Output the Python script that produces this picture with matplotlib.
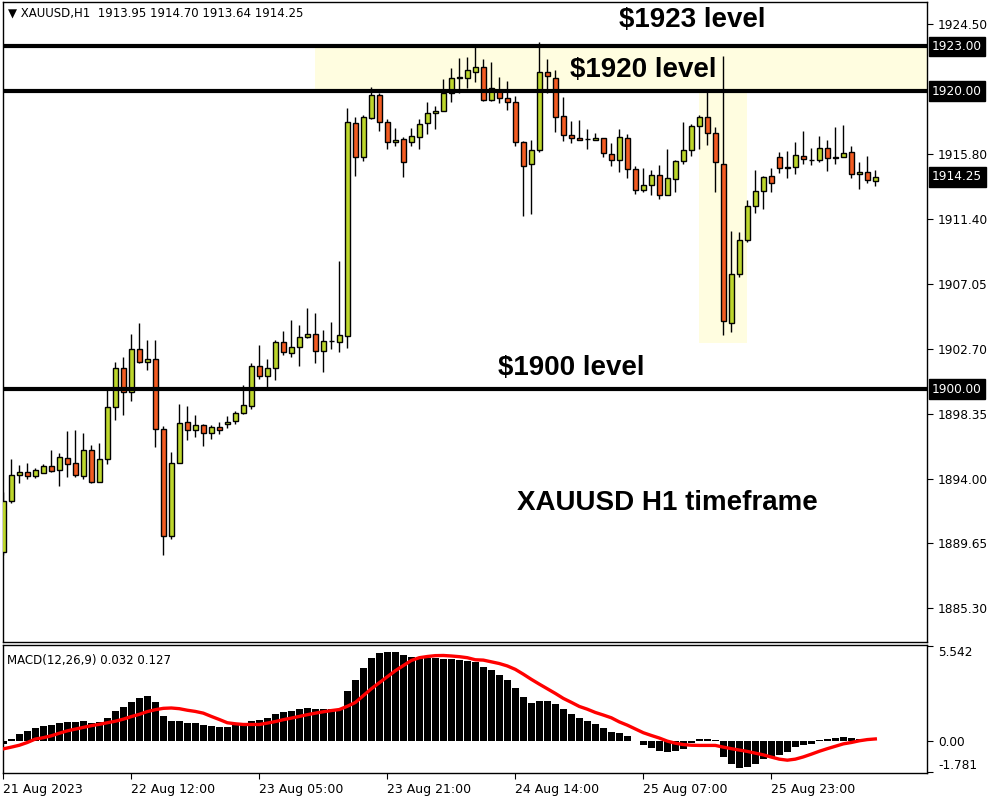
import numpy as np
import matplotlib
matplotlib.use('Agg')
import matplotlib.pyplot as plt
import matplotlib.transforms as mtransforms

# XAUUSD H1 candles (open, high, low, close)
opens = [1889.05, 1892.47, 1894.26, 1894.42, 1894.15, 1894.35, 1894.84, 1894.55, 1895.36, 1895.02,
         1894.19, 1895.89, 1893.79, 1895.29, 1898.78, 1901.40, 1899.83, 1902.67, 1901.84, 1902.00,
         1897.30, 1890.16, 1895.02, 1897.77, 1897.24, 1897.57, 1897.04, 1897.44, 1897.64, 1897.84,
         1898.38, 1898.85, 1901.53, 1900.86, 1901.40, 1903.14, 1902.40, 1902.81, 1903.48, 1903.68,
         1902.54, 1903.21, 1903.14, 1903.58, 1917.84, 1915.55, 1918.21, 1919.72, 1917.90, 1916.56,
         1916.76, 1916.56, 1916.94, 1917.84, 1918.51, 1918.64, 1919.85, 1920.88, 1920.90, 1921.30,
         1921.59, 1919.42, 1920.07, 1919.51, 1919.25, 1916.56, 1915.09, 1916.03, 1921.26, 1920.86,
         1918.30, 1917.03, 1916.83, 1916.79, 1916.70, 1916.83, 1915.76, 1915.35, 1916.83, 1914.75,
         1913.34, 1913.68, 1914.35, 1913.01, 1914.08, 1915.29, 1916.03, 1917.64, 1918.24, 1917.17,
         1915.09, 1904.41, 1907.70, 1909.98, 1912.26, 1913.27, 1914.28, 1915.55, 1914.86, 1914.88,
         1915.62, 1915.40, 1915.35, 1916.16, 1915.54, 1915.55, 1915.89, 1914.41, 1914.55, 1913.95]
highs = [1893.08, 1895.31, 1894.91, 1895.02, 1894.69, 1894.98, 1895.91, 1895.69, 1897.19, 1897.26,
         1897.04, 1896.23, 1896.36, 1899.94, 1901.80, 1902.14, 1903.70, 1904.42, 1903.30, 1903.30,
         1897.52, 1895.76, 1898.98, 1898.86, 1898.24, 1897.64, 1897.57, 1897.77, 1898.20, 1898.51,
         1900.26, 1901.73, 1902.96, 1902.00, 1903.28, 1903.88, 1904.62, 1904.28, 1905.42, 1905.09,
         1903.95, 1904.48, 1908.60, 1918.84, 1918.24, 1918.40, 1920.27, 1919.85, 1918.11, 1917.52,
         1916.90, 1917.50, 1918.11, 1919.27, 1918.98, 1920.79, 1921.53, 1922.20, 1922.27, 1922.98,
         1922.13, 1921.93, 1920.92, 1920.65, 1919.65, 1916.65, 1916.72, 1923.31, 1922.13, 1921.39,
         1919.58, 1917.97, 1918.04, 1917.43, 1917.17, 1916.83, 1916.49, 1917.43, 1917.10, 1914.95,
         1914.82, 1914.68, 1915.02, 1916.09, 1915.36, 1917.90, 1917.77, 1918.37, 1920.07, 1917.57,
         1922.35, 1910.59, 1910.52, 1912.67, 1914.68, 1914.28, 1914.82, 1915.89, 1915.95, 1916.56,
         1917.30, 1916.16, 1916.96, 1916.70, 1917.57, 1917.70, 1916.29, 1915.22, 1915.62, 1914.70]
lows = [1888.87, 1892.38, 1893.72, 1893.99, 1894.06, 1894.35, 1894.46, 1893.52, 1894.12, 1894.12,
        1893.99, 1893.72, 1893.79, 1895.00, 1897.93, 1898.26, 1899.22, 1901.78, 1901.28, 1896.14,
        1888.87, 1889.92, 1895.02, 1896.61, 1896.81, 1896.20, 1896.67, 1897.01, 1897.37, 1897.64,
        1898.31, 1898.65, 1900.66, 1900.12, 1900.59, 1902.27, 1902.14, 1901.53, 1903.41, 1901.73,
        1901.13, 1902.67, 1902.51, 1902.78, 1914.32, 1915.33, 1918.14, 1917.34, 1916.13, 1916.31,
        1914.21, 1916.33, 1916.13, 1917.14, 1917.43, 1918.64, 1919.29, 1919.89, 1920.19, 1920.63,
        1919.35, 1919.35, 1919.22, 1918.71, 1916.33, 1911.64, 1911.77, 1915.93, 1919.89, 1917.27,
        1916.67, 1916.54, 1916.70, 1916.13, 1916.70, 1915.60, 1914.99, 1914.59, 1914.19, 1913.07,
        1913.21, 1913.01, 1912.74, 1913.01, 1913.21, 1915.09, 1915.62, 1916.09, 1916.36, 1913.25,
        1903.65, 1903.81, 1907.50, 1909.85, 1911.80, 1912.06, 1913.21, 1914.48, 1914.14, 1914.41,
        1915.09, 1915.02, 1915.22, 1914.62, 1915.09, 1915.55, 1914.19, 1913.41, 1913.81, 1913.64]
closes = [1892.47, 1894.22, 1894.42, 1894.19, 1894.55, 1894.84, 1894.53, 1895.45, 1894.96, 1894.26,
          1895.89, 1893.79, 1895.29, 1898.78, 1901.40, 1899.83, 1902.67, 1901.84, 1902.00, 1897.30,
          1890.16, 1895.02, 1897.71, 1897.24, 1897.57, 1897.04, 1897.44, 1897.24, 1897.77, 1898.38,
          1898.91, 1901.53, 1900.86, 1901.40, 1903.14, 1902.47, 1902.81, 1903.48, 1903.68, 1902.54,
          1903.21, 1903.25, 1903.61, 1917.90, 1915.55, 1918.24, 1919.72, 1917.90, 1916.56, 1916.72,
          1915.22, 1916.96, 1917.77, 1918.51, 1918.66, 1919.85, 1920.86, 1920.92, 1921.39, 1921.59,
          1919.42, 1920.23, 1919.51, 1919.25, 1916.56, 1914.99, 1916.03, 1921.26, 1920.99, 1918.24,
          1917.03, 1916.83, 1916.70, 1916.77, 1916.83, 1915.82, 1915.35, 1916.90, 1914.75, 1913.34,
          1913.68, 1914.35, 1913.01, 1914.15, 1915.29, 1916.03, 1917.64, 1918.24, 1917.17, 1915.22,
          1904.55, 1907.70, 1909.98, 1912.26, 1913.27, 1914.23, 1913.81, 1914.82, 1914.88, 1915.69,
          1915.42, 1915.38, 1916.16, 1915.49, 1915.56, 1915.82, 1914.41, 1914.57, 1914.01, 1914.25]

# MACD(12,26,9): histogram (main) and signal line
macd_hist = [-0.15, 0.12, 0.41, 0.60, 0.76, 0.87, 0.93, 1.05, 1.11, 1.11,
             1.17, 1.07, 1.11, 1.32, 1.75, 1.98, 2.27, 2.49, 2.62, 2.27,
             1.46, 1.17, 1.17, 1.07, 1.07, 0.93, 0.89, 0.82, 0.82, 0.93,
             1.03, 1.17, 1.22, 1.34, 1.57, 1.71, 1.77, 1.86, 1.92, 1.86,
             1.86, 1.86, 1.86, 2.91, 3.55, 4.25, 4.84, 5.13, 5.19, 5.19,
             4.99, 4.91, 4.91, 4.84, 4.84, 4.78, 4.78, 4.72, 4.66, 4.60,
             4.31, 4.14, 3.85, 3.55, 3.07, 2.56, 2.25, 2.31, 2.31, 2.14,
             1.86, 1.57, 1.34, 1.17, 0.99, 0.76, 0.52, 0.47, 0.29, 0.02,
             -0.25, -0.41, -0.58, -0.64, -0.58, -0.43, -0.10, 0.10, 0.14, 0.08,
             -0.91, -1.36, -1.55, -1.51, -1.32, -1.07, -0.95, -0.82, -0.62, -0.37,
             -0.25, -0.16, 0.08, 0.14, 0.19, 0.23, 0.16, 0.12, 0.08, 0.03]
macd_signal = [-0.45, -0.35, -0.24, -0.08, 0.12, 0.20, 0.31, 0.46, 0.60, 0.70,
               0.80, 0.90, 0.98, 1.07, 1.16, 1.28, 1.43, 1.56, 1.72, 1.83,
               1.91, 1.93, 1.89, 1.80, 1.73, 1.63, 1.44, 1.26, 1.07, 1.01,
               0.97, 0.97, 0.97, 1.05, 1.14, 1.25, 1.34, 1.44, 1.54, 1.63,
               1.71, 1.78, 1.84, 2.03, 2.25, 2.65, 3.05, 3.40, 3.75, 4.10,
               4.40, 4.70, 4.86, 4.93, 4.98, 4.99, 4.96, 4.92, 4.86, 4.74,
               4.72, 4.62, 4.52, 4.38, 4.18, 3.90, 3.60, 3.32, 3.05, 2.78,
               2.49, 2.26, 2.02, 1.86, 1.67, 1.52, 1.36, 1.12, 0.93, 0.71,
               0.49, 0.33, 0.18, 0.00, -0.12, -0.20, -0.24, -0.25, -0.25, -0.25,
               -0.35, -0.44, -0.52, -0.60, -0.70, -0.80, -0.93, -1.05, -1.11, -1.05,
               -0.92, -0.76, -0.59, -0.44, -0.30, -0.16, -0.08, 0.02, 0.09, 0.127]

price_ticks = [1924.50, 1915.80, 1911.40, 1907.05, 1902.70, 1898.35, 1894.00, 1889.65, 1885.30]
level_marks = [1923.00, 1920.00, 1900.00]
last_price = 1914.25
time_tick_pos = [0, 16, 32, 48, 64, 80, 96]
time_tick_labels = ['21 Aug 2023', '22 Aug 12:00', '23 Aug 05:00', '23 Aug 21:00',
                    '24 Aug 14:00', '25 Aug 07:00', '25 Aug 23:00']

o = np.array(opens)
h = np.array(highs)
l = np.array(lows)
c = np.array(closes)
x = np.arange(len(o))

bull = '#bdd62c'
bear = '#f25c22'
zone = '#fffde0'
xlim = (-0.075, 115.46)

fig = plt.figure(figsize=(10, 8), dpi=100)
ax = fig.add_axes([0.0027, 0.1975, 0.9243, 0.8])
axm = fig.add_axes([0.0027, 0.03375, 0.9243, 0.16])

# highlighted zones
ax.fill_between([38.96, xlim[1]], 1920, 1923, color=zone, lw=0, zorder=0)
ax.fill_between([87.0, 92.93], 1903.09, 1920, color=zone, lw=0, zorder=0)

# candles
ax.vlines(x, l, h, color='black', lw=1.0, zorder=3)
body_lo = np.minimum(o, c)
body_h = np.maximum(np.abs(c - o), 0.03)
colors = [bull if cc >= oo else bear for oo, cc in zip(o, c)]
ax.bar(x, body_h, bottom=body_lo, width=0.6, color=colors,
       edgecolor='black', linewidth=1.0, zorder=4)

for lv in level_marks:
    ax.axhline(lv, color='black', lw=3, zorder=6)

txt = dict(fontsize=20, fontweight='bold', family='Liberation Sans',
           ha='center', va='center', color='black', zorder=7)
ax.text(86.1, 1924.77, '$1923 level', **txt)
ax.text(79.96, 1921.41, '$1920 level', **txt)
ax.text(70.96, 1901.42, '$1900 level', **txt)
ax.text(82.96, 1892.36, 'XAUUSD H1 timeframe', **txt)

ax.set_xlim(*xlim)
ax.set_ylim(1883.03, 1925.98)
ax.set_xticks([])
ax.yaxis.tick_right()
ax.set_yticks(price_ticks)
ax.set_yticklabels([f'{v:.2f}' for v in price_ticks])
ax.tick_params(axis='y', direction='out', length=4, width=0.8, pad=4,
               labelsize=8.7, colors='black')

trans = mtransforms.blended_transform_factory(ax.transAxes, ax.transData)
for v in level_marks + [last_price]:
    ax.text(1.0055, v, f'{v:.2f}', transform=trans, ha='left', va='center',
            color='white', fontsize=8.7, zorder=8,
            bbox=dict(boxstyle='square,pad=0.28', fc='black', ec='black'))

for sp in ax.spines.values():
    sp.set_color('black')
    sp.set_linewidth(1)

fig.text(0.008, 1 - 13 / 800, '\u25bc XAUUSD,H1  1913.95 1914.70 1913.64 1914.25',
         fontsize=8.5, va='center', ha='left', color='black')

# MACD panel
axm.bar(x, macd_hist, width=0.8, color='black', zorder=2)
axm.plot(x, macd_signal, color='#ff0000', lw=2.4, zorder=3)
axm.set_xlim(*xlim)
axm.set_ylim(-1.857, 5.60)
axm.yaxis.tick_right()
axm.set_yticks([5.542, 0.0, -1.781])
axm.set_yticklabels(['5.542', '0.00', '-1.781'])
ylabs = axm.get_yticklabels()
ylabs[0].set_va('top')
ylabs[2].set_va('bottom')
axm.tick_params(axis='y', direction='out', length=4, width=0.8, pad=4,
                labelsize=8.7, colors='black')
axm.set_xticks(time_tick_pos)
axm.set_xticklabels(time_tick_labels)
for lb in axm.get_xticklabels():
    lb.set_ha('left')
axm.tick_params(axis='x', direction='out', length=4, width=0.8, pad=3,
                labelsize=9, colors='black')
for sp in axm.spines.values():
    sp.set_color('black')
    sp.set_linewidth(1)

axm.text(0.005, 0.88, 'MACD(12,26,9) 0.032 0.127', transform=axm.transAxes,
         fontsize=8.5, ha='left', va='center', color='black')

fig.savefig('out.png', dpi=100, facecolor='white')
